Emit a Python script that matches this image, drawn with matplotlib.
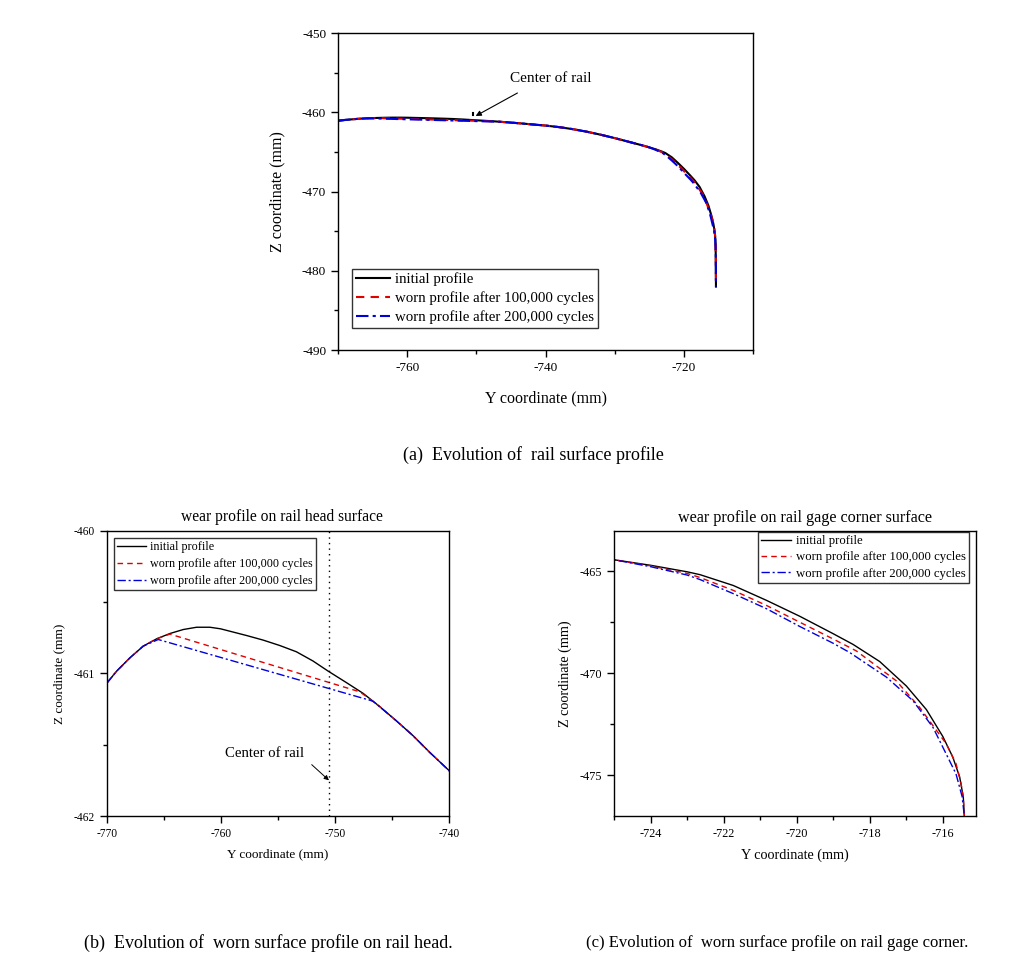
import numpy as np
import matplotlib
matplotlib.use("Agg")
import matplotlib.pyplot as plt
from matplotlib.ticker import MultipleLocator, FormatStrFormatter

plt.rcParams['font.family'] = ['Liberation Serif', 'DejaVu Serif']
plt.rcParams['axes.unicode_minus'] = False

# Rail profile data (Y coordinate, Z coordinate) in mm
y_init = [-770, -769.12, -767.96, -766.79, -765.62, -764.46, -763.29, -762.12, -760.95,
          -760.02, -757.74, -756.29, -754.83, -753.37, -751.91, -750.6, -748.99, -747.53,
          -746.07, -744.61, -743.15, -741.7, -740, -738, -736, -734, -732, -730, -728,
          -726, -725, -724, -723, -722.65, -721.74, -720.83, -719.92, -719.01, -718.46,
          -717.73, -717.0, -716.45, -716.0, -715.73, -715.54, -715.44, -715.41, -715.38,
          -715.36]
z_init = [-461.07, -460.984, -460.891, -460.809, -460.758, -460.721, -460.693, -460.677, -460.677,
          -460.688, -460.735, -460.767, -460.805, -460.849, -460.914, -460.984, -461.065, -461.14,
          -461.233, -461.333, -461.437, -461.553, -461.681, -461.88, -462.14, -462.46, -462.84,
          -463.26, -463.72, -464.18, -464.43, -464.70, -465.02, -465.16, -465.69, -466.42,
          -467.20, -468.05, -468.58, -469.42, -470.62, -471.78, -473.10, -474.10, -475.08,
          -476.06, -477.04, -479.0, -482.0]

# worn after 100,000 cycles
y_100k = [-770, -769.12, -767.96, -766.79, -765.62, -764.46, -747.8, -746.07, -744.61, -743.15,
          -741.7, -740, -738, -736, -734, -732, -730, -728, -726, -725, -724, -723, -722.65,
          -721.74, -720.83, -719.92, -719.01, -718.37, -717.28, -716.64, -715.91, -715.64,
          -715.50, -715.44, -715.41, -715.38, -715.36]
z_100k = [-461.07, -460.984, -460.891, -460.809, -460.758, -460.725, -461.13, -461.233, -461.333,
          -461.437, -461.553, -461.681, -461.88, -462.14, -462.46, -462.84, -463.26, -463.72,
          -464.18, -464.43, -464.73, -465.10, -465.30, -465.93, -466.67, -467.49, -468.31,
          -468.90, -470.36, -471.66, -473.45, -474.43, -475.41, -476.1, -477.04, -479.0, -482.0]

# worn after 200,000 cycles
y_200k = [-770, -769.12, -767.96, -766.79, -765.48, -746.66, -744.61, -743.15, -741.7, -740,
          -738, -736, -734, -732, -730, -728, -726, -725, -724, -723, -722.65, -721.74,
          -720.83, -719.92, -719.01, -718.55, -717.55, -716.82, -716.27, -715.91, -715.64,
          -715.47, -715.41, -715.38, -715.36]
z_200k = [-461.07, -460.984, -460.891, -460.809, -460.763, -461.195, -461.333, -461.437, -461.553,
          -461.681, -461.88, -462.14, -462.46, -462.84, -463.26, -463.72, -464.18, -464.43,
          -464.77, -465.18, -465.40, -466.09, -466.83, -467.70, -468.52, -468.98, -470.18,
          -471.34, -472.65, -473.95, -474.93, -476.06, -477.04, -479.0, -482.0]

labels = ['initial profile', 'worn profile after 100,000 cycles', 'worn profile after 200,000 cycles']
center_y = -750.5

fig = plt.figure(figsize=(10.19, 9.65), dpi=100)


def style_axes(ax, tick_size):
    ax.tick_params(which='both', direction='out', top=False, right=False, labelsize=tick_size)
    ax.tick_params(which='major', length=5, width=1)
    ax.tick_params(which='minor', length=3, width=1)
    for s in ax.spines.values():
        s.set_linewidth(1.0)


def draw_lines(ax, lw):
    ax.plot(y_init, z_init, color='black', lw=lw, ls='-', label=labels[0])
    ax.plot(y_100k, z_100k, color='#e00000', lw=lw, ls=(0, (4, 3)), label=labels[1])
    ax.plot(y_200k, z_200k, color='#0000dd', lw=lw, ls=(0, (6, 2, 1.5, 2)), label=labels[2])


def boxed_legend(ax, **kw):
    leg = ax.legend(frameon=True, fancybox=False, borderpad=0.25, handletextpad=0.35,
                    borderaxespad=0, **kw)
    leg.get_frame().set_edgecolor('black')
    leg.get_frame().set_linewidth(1.0)
    return leg


# (a) full profile
ax1 = fig.add_axes([0.3317, 0.6373, 0.4073, 0.3285])
draw_lines(ax1, 1.5)
ax1.set_xlim(-770, -710)
ax1.set_ylim(-490, -450)
ax1.xaxis.set_major_locator(MultipleLocator(20))
ax1.xaxis.set_minor_locator(MultipleLocator(10))
ax1.yaxis.set_major_locator(MultipleLocator(10))
ax1.yaxis.set_minor_locator(MultipleLocator(5))
style_axes(ax1, 9.5)
ax1.set_xlabel('Y coordinate (mm)', fontsize=11.5, labelpad=12)
ax1.set_ylabel('Z coordinate (mm)', fontsize=11.5, labelpad=12)
ax1.plot([center_y, center_y], [-460.1, -460.3], color='black', lw=1.5)
ax1.text(-739.2, -455.8, 'Center of rail', ha='center', va='center', fontsize=11)
ax1.annotate('', xy=(-750.1, -460.47), xytext=(-744.06, -457.57),
             arrowprops=dict(arrowstyle='-|>', color='black', lw=0.8, mutation_scale=8,
                             shrinkA=0, shrinkB=0))
boxed_legend(ax1, loc='lower left', bbox_to_anchor=(0.034, 0.069), fontsize=10.7,
             handlelength=2.3, labelspacing=0.36)

# (b) rail head
ax2 = fig.add_axes([0.1047, 0.1544, 0.3359, 0.2957])
draw_lines(ax2, 1.0)
ax2.axvline(center_y, color='black', lw=1.0, ls=(0, (1, 3)))
ax2.set_xlim(-770, -740)
ax2.set_ylim(-462, -460)
ax2.xaxis.set_major_locator(MultipleLocator(10))
ax2.xaxis.set_minor_locator(MultipleLocator(5))
ax2.yaxis.set_major_locator(MultipleLocator(1))
ax2.yaxis.set_minor_locator(MultipleLocator(0.5))
ax2.yaxis.set_major_formatter(FormatStrFormatter('%d'))
style_axes(ax2, 8.3)
ax2.set_xlabel('Y coordinate (mm)', fontsize=9.5, labelpad=6)
ax2.set_ylabel('Z coordinate (mm)', fontsize=9.5, labelpad=6)
ax2.set_title('wear profile on rail head surface', fontsize=11.2, pad=7, x=0.511)
ax2.text(-756.2, -461.56, 'Center of rail', ha='center', va='center', fontsize=10.6)
ax2.annotate('', xy=(-750.52, -461.75), xytext=(-752.03, -461.64),
             arrowprops=dict(arrowstyle='-|>', color='black', lw=0.7, mutation_scale=7,
                             shrinkA=0, shrinkB=0))
boxed_legend(ax2, loc='upper left', bbox_to_anchor=(0.0213, 0.974), fontsize=8.7,
             handlelength=2.4, labelspacing=0.4)

# (c) gage corner
ax3 = fig.add_axes([0.6028, 0.1544, 0.3547, 0.2957])
draw_lines(ax3, 1.0)
ax3.set_xlim(-725, -715.1)
ax3.set_ylim(-477, -463)
ax3.xaxis.set_major_locator(MultipleLocator(2))
ax3.xaxis.set_minor_locator(MultipleLocator(1))
ax3.yaxis.set_major_locator(MultipleLocator(5))
ax3.yaxis.set_minor_locator(MultipleLocator(2.5))
style_axes(ax3, 8.8)
ax3.set_xlabel('Y coordinate (mm)', fontsize=10.2, labelpad=6)
ax3.set_ylabel('Z coordinate (mm)', fontsize=10.2, labelpad=6)
ax3.set_title('wear profile on rail gage corner surface', fontsize=11.6, pad=6, x=0.528)
boxed_legend(ax3, loc='upper right', bbox_to_anchor=(0.9815, 0.995), fontsize=9.2,
             handlelength=2.35, labelspacing=0.33)

# captions
fig.text(533 / 1019, 1 - 455 / 965, '(a)  Evolution of  rail surface profile',
         ha='center', va='center', fontsize=13)
fig.text(268 / 1019, 1 - 943 / 965, '(b)  Evolution of  worn surface profile on rail head.',
         ha='center', va='center', fontsize=13)
fig.text(777 / 1019, 1 - 943 / 965, '(c) Evolution of  worn surface profile on rail gage corner.',
         ha='center', va='center', fontsize=12)

fig.savefig('out.png', dpi=100)
